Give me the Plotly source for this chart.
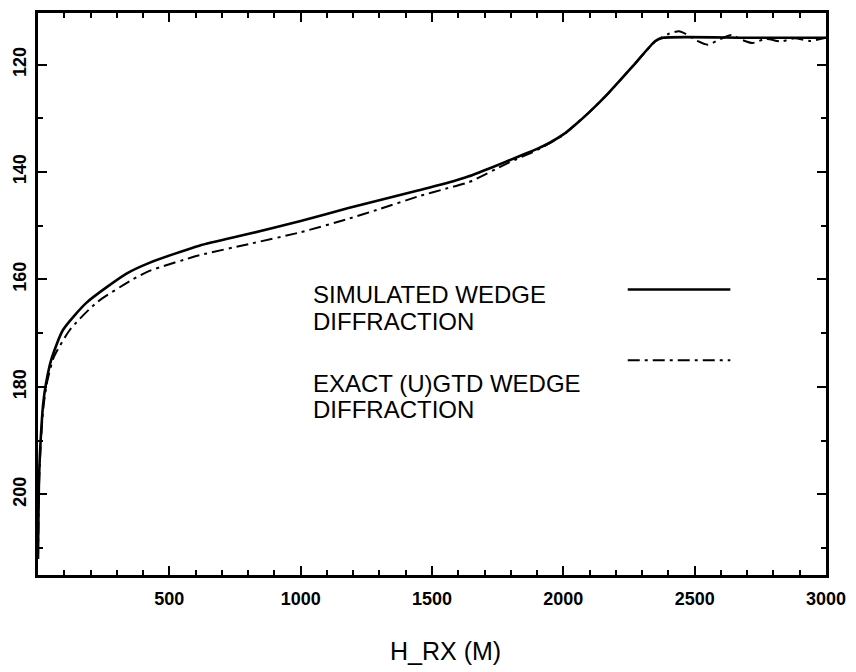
import plotly.graph_objects as go

# Received level vs. receiver height
h_sim = [0, 4, 10, 20, 30, 50, 95, 185, 337, 424, 614, 803, 1000, 1182, 1450,
         1560, 1640, 1730, 1830, 1900, 1950, 2000, 2050, 2100, 2170, 2270, 2350,
         2380, 2700, 3000]
loss_sim = [212, 197, 190, 183, 179.5, 175, 169.4, 164.3, 158.9, 156.9, 153.7,
            151.5, 149.1, 146.7, 143.4, 142.0, 140.8, 139.1, 137.1, 135.7, 134.5,
            133.0, 131.0, 128.8, 125.4, 120.0, 115.6, 115.0, 115.0, 115.0]

h_gtd = [0, 4, 10, 20, 35, 60, 121, 223, 360, 424, 614, 803, 1000, 1182, 1300,
         1450, 1560, 1640, 1790, 1900, 2000, 2050, 2100, 2170, 2270, 2350, 2400,
         2440, 2470, 2510, 2550, 2600, 2640, 2680, 2720, 2770, 2830, 2880, 2940,
         3000]
loss_gtd = [212, 198, 191, 184, 179, 174.5, 169.4, 164.3, 160.0, 158.4, 155.5,
            153.4, 151.2, 148.7, 146.9, 144.5, 143.0, 141.9, 138.3, 135.9, 133.1,
            131.0, 128.8, 125.4, 120.0, 115.7, 114.3, 113.8, 114.4, 115.6, 116.3,
            115.2, 114.5, 115.4, 116.0, 115.2, 115.7, 115.1, 115.6, 115.0]

x_ticks = [500, 1000, 1500, 2000, 2500, 3000]
y_ticks = [120, 140, 160, 180, 200]

legend_lines = [["SIMULATED WEDGE", "DIFFRACTION"],
                ["EXACT (U)GTD WEDGE", "DIFFRACTION"]]

DASHDOT = "12px,5px,3px,5px"

fig = go.Figure()
fig.add_trace(go.Scatter(x=h_sim, y=loss_sim, mode="lines",
                         line=dict(color="black", width=2.6, shape="spline", smoothing=0.6),
                         showlegend=False))
fig.add_trace(go.Scatter(x=h_gtd, y=loss_gtd, mode="lines",
                         line=dict(color="black", width=2.0, dash=DASHDOT,
                                   shape="spline", smoothing=0.6),
                         showlegend=False))

axis_common = dict(
    showline=True, linecolor="black", linewidth=3, mirror="allticks",
    ticks="inside", ticklen=9, tickwidth=2, tickcolor="black",
    showgrid=False, zeroline=False,
    tickfont=dict(family="Liberation Sans, Arial, sans-serif", size=18, color="black",
                  weight="bold"),
)

fig.update_xaxes(range=[0, 3000], tickvals=x_ticks, ticktext=[str(v) for v in x_ticks],
                 minor=dict(dtick=100, tick0=0, ticks="inside", ticklen=5,
                            tickwidth=2, tickcolor="black"),
                 ticklabelstandoff=5, **axis_common)
fig.update_yaxes(range=[215, 110.4], tickvals=y_ticks, ticktext=[str(v) for v in y_ticks],
                 tickangle=-90,
                 minor=dict(dtick=10, tick0=0, ticks="inside", ticklen=5,
                            tickwidth=2, tickcolor="black"),
                 ticklabelstandoff=2, **axis_common)

text_font = dict(family="Liberation Sans, Arial, sans-serif", size=24, color="black")

# legend keys: sample line to the right of each label block
key_x0, key_x1 = 0.7484, 0.8786
key_y = [0.508, 0.382]
fig.add_shape(type="line", xref="paper", yref="paper", x0=key_x0, x1=key_x1,
              y0=key_y[0], y1=key_y[0], line=dict(color="black", width=2.6))
fig.add_shape(type="line", xref="paper", yref="paper", x0=key_x0, x1=key_x1,
              y0=key_y[1], y1=key_y[1], line=dict(color="black", width=2.0, dash=DASHDOT))

label_y = [[0.4991, 0.4513], [0.3416, 0.2938]]
for lines, ys in zip(legend_lines, label_y):
    for txt, yy in zip(lines, ys):
        fig.add_annotation(text=txt, xref="paper", yref="paper", x=0.3477, y=yy,
                           xanchor="left", yanchor="middle", showarrow=False,
                           font=text_font, borderpad=0)

fig.add_annotation(text="H_RX (M)", xref="paper", yref="paper", x=0.517, y=-0.136,
                   xanchor="center", yanchor="middle", showarrow=False,
                   font=dict(family="Liberation Sans, Arial, sans-serif", size=25,
                             color="black"))

fig.update_layout(
    width=856, height=672,
    margin=dict(l=38, r=27, t=10, b=97),
    paper_bgcolor="white", plot_bgcolor="white",
)

fig.write_html("out.html")
